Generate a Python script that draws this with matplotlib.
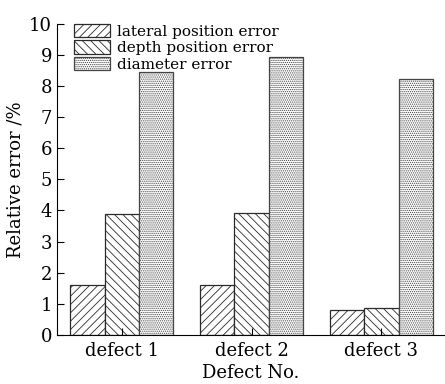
import numpy as np
import matplotlib
matplotlib.use('Agg')
import matplotlib.pyplot as plt

plt.rcParams['font.family'] = ['DejaVu Serif']
plt.rcParams['hatch.linewidth'] = 0.6

defects = ['defect 1', 'defect 2', 'defect 3']
lateral = [1.6, 1.6, 0.8]
depth = [3.9, 3.92, 0.87]
diameter = [8.45, 8.92, 8.22]

x = np.arange(len(defects))
w = 0.265

fig = plt.figure(figsize=(4.45, 3.84), dpi=100)
ax = fig.add_axes([0.128, 0.128, 0.872, 0.81])

ax.bar(x - w, lateral, w, color='white', edgecolor='#2a2a2a', hatch='////', linewidth=0.9, label='lateral position error')
ax.bar(x, depth, w, color='white', edgecolor='#2a2a2a', hatch='\\\\\\\\', linewidth=0.9, label='depth position error')
ax.bar(x + w, diameter, w, color='white', edgecolor='#444444', hatch='........', linewidth=0.9, label='diameter error')

ax.set_xlim(-0.5, 2.49)
ax.set_ylim(0, 10)
ax.set_yticks(range(0, 11))
ax.set_xticks(x)
ax.set_xticklabels(defects)
ax.tick_params(direction='in', labelsize=13, length=5, width=0.8)
ax.tick_params(axis='x', pad=5)
ax.spines['top'].set_visible(False)
ax.spines['right'].set_visible(False)
ax.set_xlabel('Defect No.', fontsize=13, labelpad=3)
ax.set_ylabel('Relative error /%', fontsize=13, labelpad=3)

ax.legend(loc='upper left', bbox_to_anchor=(0.045, 1.0), frameon=False, fontsize=11,
          handlelength=2.3, handleheight=0.95, labelspacing=0.12, handletextpad=0.5,
          borderaxespad=0, borderpad=0)

fig.savefig('out.png', dpi=100)
